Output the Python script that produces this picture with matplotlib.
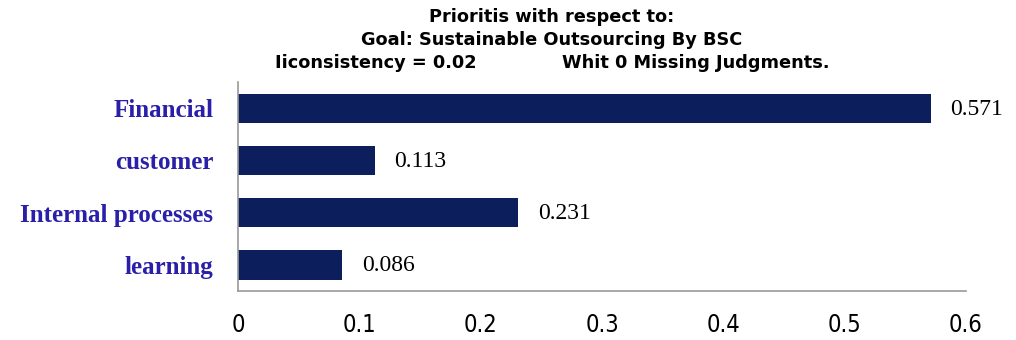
import numpy as np
import matplotlib.pyplot as plt

categories = ['Financial', 'customer', 'Internal processes', 'learning']
priorities = [0.571, 0.113, 0.231, 0.086]
xticks = [0, 0.1, 0.2, 0.3, 0.4, 0.5, 0.6]

fig = plt.figure(figsize=(10.16, 3.4), dpi=100)
ax = fig.add_axes([0.2343, 0.1441, 0.7165, 0.6147])

y = np.arange(len(categories))
ax.barh(y, priorities, height=0.56, color='#0c1f5c')
ax.set_ylim(len(categories) - 0.5, -0.5)
ax.set_xlim(0, 0.6)

for yi, v in zip(y, priorities):
    ax.text(v + 0.016, yi + 0.02, f'{v:.3f}', va='center', ha='left',
            fontsize=17, family='Liberation Serif', color='black')

ax.set_yticks(y)
ax.set_yticklabels(categories, fontsize=18, family='Liberation Serif',
                   fontweight='bold', color='#2a1fa8')
ax.set_xticks(xticks)
ax.set_xticklabels([f'{t:g}' for t in xticks], fontsize=17,
                   family='DejaVu Sans', fontstretch='condensed')
ax.tick_params(axis='both', length=0)
ax.tick_params(axis='x', pad=16)
ax.tick_params(axis='y', pad=18)

for s in ['top', 'right']:
    ax.spines[s].set_visible(False)
for s in ['left', 'bottom']:
    ax.spines[s].set_color('#999999')
    ax.spines[s].set_linewidth(1.2)

tfont = dict(fontsize=12.8, family='DejaVu Sans', fontweight='bold', va='center')
fig.text(552 / 1016, 1 - 17 / 340, 'Prioritis with respect to:', ha='center', **tfont)
fig.text(552 / 1016, 1 - 40 / 340, 'Goal: Sustainable Outsourcing By BSC', ha='center', **tfont)
fig.text(275 / 1016, 1 - 63 / 340, 'Iiconsistency = 0.02', ha='left', **tfont)
fig.text(830 / 1016, 1 - 63 / 340, 'Whit 0 Missing Judgments.', ha='right', **tfont)

fig.savefig('out.png', dpi=100)
